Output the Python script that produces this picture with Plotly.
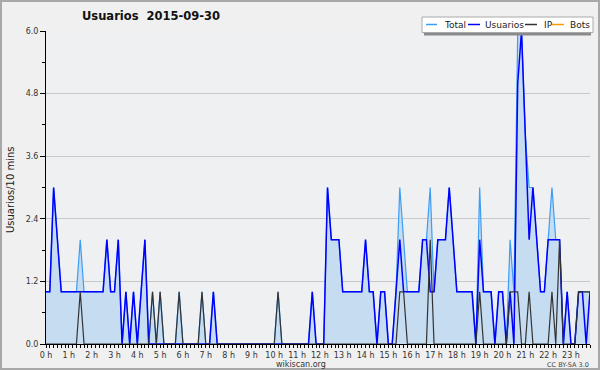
import plotly.graph_objects as go

# ---------------- data (10-minute slots, 2015-09-30) ----------------
slot_count = 144
slots = [i / 6 for i in range(slot_count)]  # hours

total = [
    1, 1, 3, 2, 1, 1, 1, 1, 1, 2,
    1, 1, 1, 1, 1, 1, 2, 1, 1, 2,
    0, 1, 0, 1, 0, 1, 2, 0, 1, 0,
    1, 0, 0, 0, 0, 1, 0, 0, 0, 0,
    0, 1, 0, 0, 1, 0, 0, 0, 0, 0,
    0, 0, 0, 0, 0, 0, 0, 0, 0, 0,
    0, 1, 0, 0, 0, 0, 0, 0, 0, 0,
    1, 0, 0, 0, 3, 2, 2, 2, 1, 1,
    1, 1, 1, 1, 2, 1, 1, 0, 1, 1,
    0, 0, 1, 3, 2, 1, 1, 1, 1, 2,
    2, 3, 1, 2, 2, 2, 3, 2, 1, 1,
    1, 1, 1, 0, 3, 1, 1, 1, 0, 1,
    1, 0, 2, 1, 6, 6, 4, 3, 3, 2,
    1, 1, 2, 3, 2, 2, 0, 1, 0, 0,
    1, 1, 1, 1,
]

usuarios = [
    1, 1, 3, 2, 1, 1, 1, 1, 1, 1,
    1, 1, 1, 1, 1, 1, 2, 1, 1, 2,
    0, 1, 0, 1, 0, 1, 2, 0, 0, 0,
    0, 0, 0, 0, 0, 0, 0, 0, 0, 0,
    0, 0, 0, 0, 1, 0, 0, 0, 0, 0,
    0, 0, 0, 0, 0, 0, 0, 0, 0, 0,
    0, 0, 0, 0, 0, 0, 0, 0, 0, 0,
    1, 0, 0, 0, 3, 2, 2, 2, 1, 1,
    1, 1, 1, 1, 2, 1, 1, 0, 1, 1,
    0, 0, 1, 2, 1, 1, 1, 1, 1, 2,
    2, 1, 1, 2, 2, 2, 3, 2, 1, 1,
    1, 1, 1, 0, 2, 1, 1, 1, 0, 1,
    1, 0, 1, 0, 5, 6, 4, 2, 3, 2,
    1, 1, 2, 2, 2, 2, 0, 1, 0, 0,
    1, 1, 0, 1,
]

ip = [
    0, 0, 0, 0, 0, 0, 0, 0, 0, 1,
    0, 0, 0, 0, 0, 0, 0, 0, 0, 0,
    0, 0, 0, 0, 0, 0, 0, 0, 1, 0,
    1, 0, 0, 0, 0, 1, 0, 0, 0, 0,
    0, 1, 0, 0, 0, 0, 0, 0, 0, 0,
    0, 0, 0, 0, 0, 0, 0, 0, 0, 0,
    0, 1, 0, 0, 0, 0, 0, 0, 0, 0,
    0, 0, 0, 0, 0, 0, 0, 0, 0, 0,
    0, 0, 0, 0, 0, 0, 0, 0, 0, 0,
    0, 0, 0, 1, 1, 0, 0, 0, 0, 0,
    0, 2, 0, 0, 0, 0, 0, 0, 0, 0,
    0, 0, 0, 0, 1, 0, 0, 0, 0, 0,
    0, 0, 1, 1, 1, 0, 0, 1, 0, 0,
    0, 0, 0, 1, 0, 2, 0, 0, 0, 0,
    1, 1, 1, 1,
]

bots = [0] * slot_count

hour_ticks = list(range(24))
hour_labels = ["0 h", "1 h", "2 h", "3 h", "4 h", "5 h", "6 h", "7 h", "8 h", "9 h",
               "10 h", "11 h", "12 h", "13 h", "14 h", "15 h", "16 h", "17 h", "18 h",
               "19 h", "20 h", "21 h", "22 h", "23 h"]
y_ticks = [0, 1.2, 2.4, 3.6, 4.8, 6.0]
y_labels = ["0.0", "1.2", "2.4", "3.6", "4.8", "6.0"]

series_names = ["Total", "Usuarios", "IP", "Bots"]
series_colors = ["#3d9df5", "#0000ff", "#333333", "#ff9900"]

# ---------------- layout geometry helpers ----------------
W_FIG, H_FIG = 600, 370
L, R, TOP, BOT = 46, 590, 31, 344
PW, PH = R - L, BOT - TOP


def px(x):
    return (x - L) / PW


def py(y):
    return (BOT - y) / PH


FONT = "DejaVu Sans"

fig = go.Figure()
fig.add_trace(go.Scatter(x=slots, y=bots, mode="lines", name="Bots",
                         line=dict(color=series_colors[3], width=1), hoverinfo="skip"))
fig.add_trace(go.Scatter(x=slots, y=total, mode="lines", name="Total", fill="tozeroy",
                         fillcolor="#c6dcf0", line=dict(color=series_colors[0], width=1.2)))
fig.add_trace(go.Scatter(x=slots, y=usuarios, mode="lines", name="Usuarios",
                         line=dict(color=series_colors[1], width=1.5)))
fig.add_trace(go.Scatter(x=slots, y=ip, mode="lines", name="IP",
                         line=dict(color=series_colors[2], width=1.2)))

fig.update_layout(
    width=W_FIG, height=H_FIG,
    margin=dict(l=L, r=W_FIG - R, t=TOP, b=H_FIG - BOT, pad=0),
    paper_bgcolor="#f0f0f0", plot_bgcolor="#eff0f2",
    showlegend=False,
    font=dict(family=FONT, size=8, color="#333333"),
)
fig.update_xaxes(
    range=[0, slots[-1]], tickmode="array", tickvals=hour_ticks, ticktext=hour_labels,
    ticks="outside", ticklen=3, tickcolor="black", tickwidth=1,
    showline=True, linecolor="black", linewidth=1, showgrid=False, zeroline=False,
    tickfont=dict(family=FONT, size=8, color="#333333"),
    minor=dict(tickmode="linear", tick0=0, dtick=1 / 6, ticks="outside", ticklen=3,
               tickcolor="black", showgrid=False),
)
fig.update_yaxes(
    range=[0, 6], tickmode="array", tickvals=y_ticks, ticktext=y_labels,
    ticks="outside", ticklen=5, tickcolor="black", tickwidth=1,
    showline=True, linecolor="black", linewidth=1,
    showgrid=True, gridcolor="#c8c8c8", gridwidth=1, zeroline=False,
    tickfont=dict(family=FONT, size=8, color="#333333"),
    minor=dict(tickmode="linear", tick0=0, dtick=0.6, ticks="outside", ticklen=3,
               tickcolor="black", showgrid=False),
)

shapes = []
# outer border
shapes.append(dict(type="rect", xref="paper", yref="paper", x0=px(1), x1=px(599), y0=py(1), y1=py(369),
                   line=dict(color="#a8a8a8", width=2), fillcolor="rgba(0,0,0,0)", layer="above"))
# legend shadow + box
shapes.append(dict(type="rect", xref="paper", yref="paper", x0=px(424), x1=px(591), y0=py(30), y1=py(35.5),
                   line=dict(width=0), fillcolor="#8a8a8a", layer="above"))
shapes.append(dict(type="rect", xref="paper", yref="paper", x0=px(422), x1=px(593), y0=py(17), y1=py(32.5),
                   line=dict(color="#aaaaaa", width=1), fillcolor="white", layer="above"))

legend_lines = [(426, 437), (468, 480), (525, 537), (552, 564)]
legend_text_x = [442, 483, 542, 568]
annotations = []
for (a, b), tx, name, col in zip(legend_lines, legend_text_x, series_names, series_colors):
    shapes.append(dict(type="line", xref="paper", yref="paper", x0=px(a), x1=px(b), y0=py(24.5), y1=py(24.5),
                       line=dict(color=col, width=1.5), layer="above"))
    annotations.append(dict(xref="paper", yref="paper", x=px(tx), y=py(24.5), text=name, showarrow=False,
                            xanchor="left", yanchor="middle",
                            font=dict(family=FONT, size=9, color="#222222")))

annotations.append(dict(xref="paper", yref="paper", x=px(151), y=py(16), showarrow=False,
                        text="<b>Usuarios\u00a0\u00a02015-09-30</b>", xanchor="center", yanchor="middle",
                        font=dict(family=FONT, size=11.5, color="#111111")))
annotations.append(dict(xref="paper", yref="paper", x=px(10), y=py(190), showarrow=False,
                        text="Usuarios/10 mins", textangle=-90, xanchor="center", yanchor="middle",
                        font=dict(family=FONT, size=10, color="#222222")))
annotations.append(dict(xref="paper", yref="paper", x=px(301), y=py(364.5), showarrow=False,
                        text="wikiscan.org", xanchor="center", yanchor="middle", borderpad=0,
                        font=dict(family=FONT, size=8, color="#333333")))
annotations.append(dict(xref="paper", yref="paper", x=px(590), y=py(365), showarrow=False,
                        text="CC BY-SA 3.0", xanchor="right", yanchor="middle", borderpad=0,
                        font=dict(family=FONT, size=6.5, color="#444444")))

fig.update_layout(shapes=shapes, annotations=annotations)
fig.write_html("out.html")
